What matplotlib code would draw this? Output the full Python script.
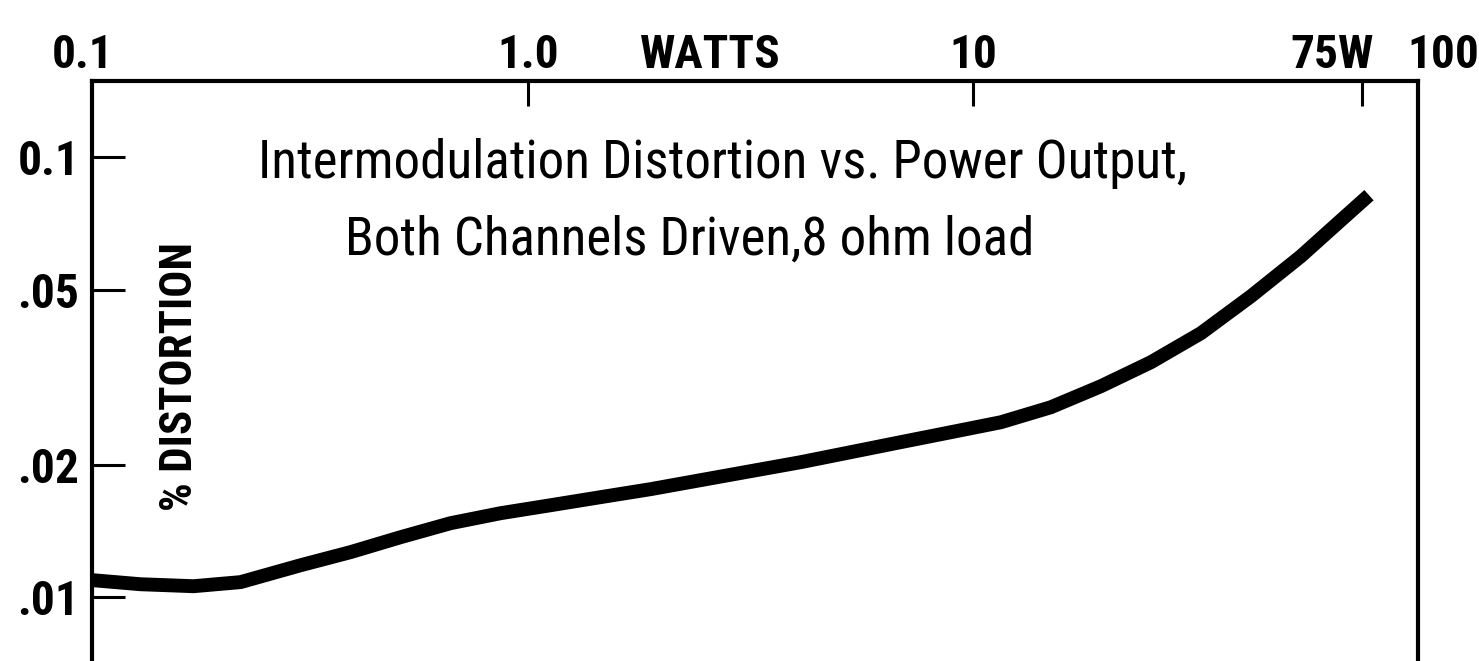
import matplotlib
matplotlib.use("Agg")
import matplotlib.pyplot as plt
from matplotlib import font_manager

# IM distortion vs power output
watts = [0.1053, 0.135, 0.1776, 0.2265, 0.309, 0.4002, 0.5185, 0.6714, 0.8696,
         1.126, 1.459, 1.889, 2.447, 3.171, 4.107, 5.319, 6.89, 8.925, 11.56,
         14.97, 19.39, 25.12, 32.54, 42.14, 54.59, 67.14, 77.6]
distortion = [0.01093, 0.0107, 0.01059, 0.01082, 0.01182, 0.01266, 0.01369,
              0.01473, 0.01552, 0.01618, 0.01688, 0.0176, 0.01845, 0.01934,
              0.02027, 0.02136, 0.02251, 0.02371, 0.02498, 0.02702, 0.03016,
              0.0342, 0.03981, 0.0483, 0.05957, 0.0719, 0.08197]

y_ticks = [0.1, 0.05, 0.02, 0.01]
y_labels = ["0.1", ".05", ".02", ".01"]
top_ticks = [1.0, 10, 75]
top_labels = [(0.1, "0.1"), (1.0, "1.0"), (10, "10"), (75, "75W"), (100, "100")]

# pick the narrowest family that is actually installed
installed = {f.name for f in font_manager.fontManager.ttflist}
narrow = "DejaVu Sans"
for cand in ["Roboto Condensed", "Liberation Sans Narrow", "DejaVu Sans Condensed",
             "Open Sans Condensed", "Roboto"]:
    if cand in installed:
        narrow = cand
        break
fam = [narrow, "DejaVu Sans"]

W, H = 1479, 661
fig = plt.figure(figsize=(W / 100, H / 100), dpi=100)
ax = fig.add_axes([92 / W, 0, (1418 - 92) / W, (H - 81) / H])

ax.plot(watts, distortion, color="black", lw=10, solid_capstyle="butt",
        solid_joinstyle="round")

ax.set_xscale("log")
ax.set_yscale("log")
ax.set_xlim(0.105, 100)
ax.set_ylim(0.00716, 0.149)

for side in ["left", "top", "right"]:
    ax.spines[side].set_linewidth(3)
ax.spines["bottom"].set_visible(False)

ax.yaxis.set_minor_locator(matplotlib.ticker.NullLocator())
ax.set_yticks(y_ticks)
ax.set_yticklabels(y_labels, family=fam, fontweight="bold", fontsize=30,
                   stretch="condensed")
ax.tick_params(axis="y", which="major", direction="in", length=24, width=2.2,
               pad=9, left=True, right=False)

ax.xaxis.set_minor_locator(matplotlib.ticker.NullLocator())
ax.set_xticks(top_ticks)
ax.tick_params(axis="x", which="major", direction="in", length=18, width=2.2,
               top=True, bottom=False, labeltop=False, labelbottom=False)

tr = ax.get_xaxis_transform()
top_texts = []
for val, lab in top_labels:
    if lab == "75W":
        t = ax.annotate(lab, (val, 1.0224), xycoords=tr, xytext=(-22, 0),
                        textcoords="offset points", ha="center", va="baseline",
                        annotation_clip=False)
    elif lab == "100":
        t = ax.annotate(lab, (val, 1.0224), xycoords=tr, xytext=(-8, 0),
                        textcoords="offset points", ha="left", va="baseline",
                        annotation_clip=False)
    else:
        t = ax.text(val, 1.0224, lab, transform=tr, ha="center",
                    va="baseline", clip_on=False)
    top_texts.append(t)

watts_lbl = ax.text(0.466, 1.0224, "WATTS", transform=ax.transAxes,
                    ha="center", va="baseline", clip_on=False)
top_texts.append(watts_lbl)
for t in top_texts:
    t.set_family(fam)
    t.set_fontweight("bold")
    t.set_stretch("condensed")
    t.set_fontsize(30)

ylab = ax.text(0.066, 0.49, "% DISTORTION", transform=ax.transAxes,
               rotation=90, ha="center", va="center", family=fam,
               fontweight="bold", stretch="condensed", fontsize=28)

line1 = ax.text(0.125, 0.833, "Intermodulation Distortion vs. Power Output,",
                transform=ax.transAxes, ha="left", va="baseline", family=fam,
                stretch="condensed", fontsize=34)
line2 = ax.text(0.191, 0.700, "Both Channels Driven,8 ohm load",
                transform=ax.transAxes, ha="left", va="baseline", family=fam,
                stretch="condensed", fontsize=34)

# scale font sizes so the text widths match the scan
fig.canvas.draw()
rend = fig.canvas.get_renderer()


def fit_factor(ref, target, vertical=False):
    bb = ref.get_window_extent(rend)
    return target / (bb.height if vertical else bb.width)


def fit(texts, ref, target, vertical=False):
    k = fit_factor(ref, target, vertical)
    for t in texts:
        t.set_fontsize(t.get_fontsize() * k)


fit(top_texts, watts_lbl, 140)
fit([ylab], ylab, 269, vertical=True)
# both title lines share one size, as in the scan
k_title = (fit_factor(line1, 867) + fit_factor(line2, 740)) / 2
for t in (line1, line2):
    t.set_fontsize(t.get_fontsize() * k_title)
ytl = ax.get_yticklabels()
fit(ytl, ytl[1], 62)

fig.savefig("out.png", dpi=100)
